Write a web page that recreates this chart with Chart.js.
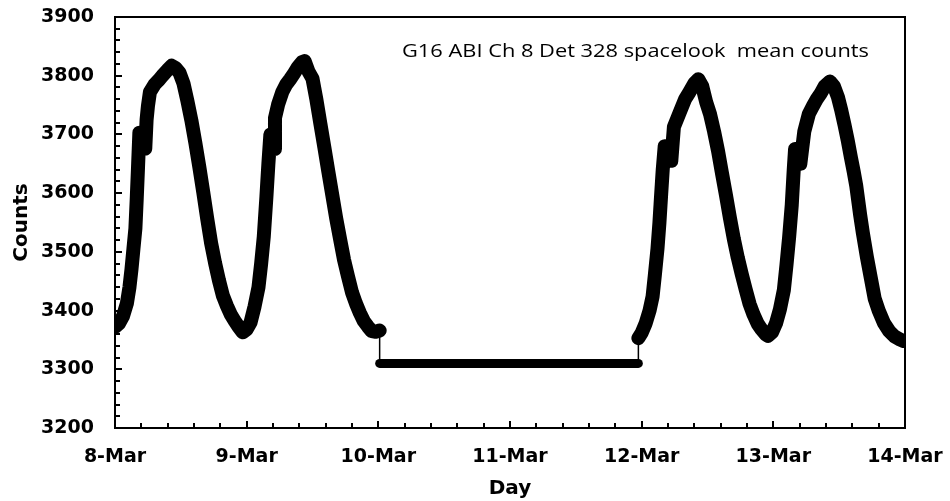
<!DOCTYPE html>
<html>
<head>
<meta charset="utf-8">
<script src="https://cdn.jsdelivr.net/npm/chart.js@4"></script>
<style>
html,body{margin:0;padding:0;background:#fff;}
#wrap{width:950px;height:501px;position:relative;}
</style>
</head>
<body>
<div id="wrap"><canvas id="c"></canvas></div>
<script>
// ---- data ----
const dayLabels = ['8-Mar', '9-Mar', '10-Mar', '11-Mar', '12-Mar', '13-Mar', '14-Mar'];
const yMin = 3200, yMax = 3900, yStep = 100;
const noteText = 'G16 ABI Ch 8 Det 328 spacelook  mean counts';
const xTitle = 'Day';
const yTitle = 'Counts';

// time in days since 8-Mar 00:00
const days = [
  0.00, 0.03, 0.06, 0.09, 0.11, 0.125, 0.14, 0.155, 0.165, 0.175, 0.185, 0.20, 0.22, 0.23, 0.24, 0.25, 0.265,
  0.30, 0.33, 0.36, 0.40, 0.43, 0.46, 0.49, 0.52, 0.55, 0.58, 0.61, 0.64, 0.67, 0.70, 0.73, 0.76, 0.79,
  0.82, 0.85, 0.88, 0.91, 0.94, 0.97, 1.00, 1.03, 1.06, 1.09, 1.11, 1.13, 1.15, 1.165, 1.18, 1.195, 1.21,
  1.215, 1.24, 1.27, 1.30, 1.33, 1.36, 1.39, 1.42, 1.44, 1.47, 1.50, 1.53, 1.56, 1.59, 1.62, 1.65, 1.68,
  1.71, 1.74, 1.77, 1.80, 1.83, 1.86, 1.89, 1.92, 1.95, 1.98, 2.01,
  2.01, 2.50, 3.00, 3.50, 3.975,
  3.975, 4.00, 4.03, 4.06, 4.083, 4.10, 4.12, 4.135, 4.147, 4.16, 4.175, 4.19, 4.21, 4.225, 4.245, 4.29,
  4.33, 4.36, 4.40, 4.43, 4.46, 4.49, 4.52, 4.55, 4.58, 4.61, 4.64, 4.67, 4.70, 4.73, 4.76, 4.79, 4.82,
  4.85, 4.88, 4.91, 4.94, 4.96, 4.99, 5.02, 5.05, 5.08, 5.10, 5.12, 5.14, 5.155, 5.165, 5.18, 5.195, 5.205,
  5.235, 5.27, 5.30, 5.33, 5.36, 5.39, 5.43, 5.46, 5.49, 5.515, 5.54, 5.565, 5.59, 5.61, 5.63, 5.66, 5.68,
  5.71, 5.74, 5.77, 5.80, 5.84, 5.88, 5.92, 5.96, 5.99
];
const counts = [
  3372, 3378, 3390, 3412, 3440, 3470, 3505, 3540, 3590, 3645, 3703, 3695, 3680, 3676, 3725, 3748, 3772,
  3785, 3792, 3800, 3810, 3817, 3813, 3805, 3787, 3757, 3724, 3686, 3645, 3602, 3557, 3515, 3481, 3451,
  3425, 3408, 3393, 3382, 3372, 3363, 3368, 3380, 3407, 3440, 3480, 3526, 3594, 3650, 3700, 3695, 3675,
  3728, 3752, 3772, 3785, 3794, 3804, 3815, 3823, 3825, 3807, 3795, 3759, 3718, 3678, 3637, 3597, 3557,
  3521, 3486, 3458, 3431, 3412, 3396, 3382, 3373, 3365, 3364, 3366,
  3310, 3310, 3310, 3310, 3310,
  3353, 3362, 3378, 3400, 3424, 3460, 3505, 3550, 3594, 3640, 3680, 3678, 3665, 3655, 3713, 3738,
  3760, 3771, 3787, 3794, 3782, 3755, 3734, 3705, 3672, 3634, 3597, 3558, 3522, 3490, 3462, 3436, 3411,
  3393, 3378, 3368, 3360, 3357, 3363, 3378, 3402, 3435, 3478, 3525, 3580, 3640, 3675, 3672, 3660, 3650,
  3705, 3735, 3748, 3760, 3770, 3782, 3790, 3782, 3764, 3742, 3717, 3690, 3660, 3637, 3612, 3562, 3532,
  3492, 3456, 3420, 3400, 3379, 3365, 3356, 3351, 3348
];

// ---- chart ----
const points = days.map((d, i) => ({ x: d, y: counts[i] }));
const tickFont = { family: 'DejaVu Sans', weight: 'bold', size: 19 };
const titleFont = { family: 'DejaVu Sans', weight: 'bold', size: 20 };

const decorPlugin = {
  id: 'decor',
  beforeDatasetsDraw(chart) {
    const { ctx, chartArea: a, scales: { x, y } } = chart;
    ctx.save();
    ctx.strokeStyle = '#000';
    ctx.lineWidth = 2;
    // frame (top and right)
    ctx.beginPath();
    ctx.moveTo(a.left, a.top); ctx.lineTo(a.right, a.top); ctx.lineTo(a.right, a.bottom);
    ctx.stroke();
    // inside tick marks, x: every 0.2 day
    ctx.beginPath();
    const nx = Math.round((x.max - x.min) / 0.2);
    for (let i = 0; i <= nx; i++) {
      const v = x.min + i * 0.2;
      const px = Math.round(x.getPixelForValue(v));
      const len = (i % 5 === 0) ? 7 : 5;
      ctx.moveTo(px, a.bottom); ctx.lineTo(px, a.bottom - len);
    }
    // inside tick marks, y: every 20 counts
    const ny = Math.round((y.max - y.min) / 20);
    for (let i = 0; i <= ny; i++) {
      const v = y.min + i * 20;
      const py = Math.round(y.getPixelForValue(v));
      const len = (i % 5 === 0) ? 7 : 5;
      ctx.moveTo(a.left, py); ctx.lineTo(a.left + len, py);
    }
    ctx.stroke();
    ctx.restore();
  },
  afterDraw(chart) {
    const { ctx } = chart;
    ctx.save();
    ctx.fillStyle = '#000';
    ctx.font = '19px "Open Sans"';
    ctx.textBaseline = 'alphabetic';
    ctx.textAlign = 'left';
    const w = ctx.measureText(noteText).width;
    ctx.translate(402, 57);
    ctx.scale(467 / w, 1);
    ctx.fillText(noteText, 0, 0);
    ctx.restore();
  }
};

const hiddenGrid = (len) => ({
  display: true, drawOnChartArea: false, drawTicks: true,
  tickLength: len, tickColor: 'rgba(0,0,0,0)'
});

new Chart(document.getElementById('c'), {
  type: 'line',
  data: {
    datasets: [{
      data: points,
      borderColor: '#000',
      backgroundColor: '#000',
      pointRadius: 0,
      pointHoverRadius: 0,
      tension: 0,
      borderWidth: 14,
      borderCapStyle: 'round',
      borderJoinStyle: 'round',
      segment: {
        borderWidth: c => c.p0.parsed.x === c.p1.parsed.x ? 1.5 : (c.p0.parsed.y === c.p1.parsed.y ? 9 : 14)
      }
    }]
  },
  options: {
    responsive: true,
    maintainAspectRatio: false,
    animation: false,
    events: [],
    layout: { padding: { left: 0, right: 45, top: 17, bottom: 0 } },
    plugins: { legend: { display: false }, tooltip: { enabled: false }, title: { display: false } },
    scales: {
      x: {
        type: 'linear',
        min: 0, max: dayLabels.length - 1,
        grid: hiddenGrid(15),
        border: { display: true, color: '#000', width: 2 },
        ticks: {
          stepSize: 1, autoSkip: false, maxRotation: 0, padding: 3,
          color: '#000', font: tickFont,
          callback: v => dayLabels[Math.round(v)]
        },
        title: { display: true, text: xTitle, color: '#000', font: titleFont, padding: { top: 0, bottom: 0 } },
        afterFit: s => { s.height = 73; }
      },
      y: {
        min: yMin, max: yMax,
        grid: hiddenGrid(18),
        border: { display: true, color: '#000', width: 2 },
        ticks: { stepSize: yStep, padding: 3, color: '#000', font: tickFont, callback: v => String(v) },
        title: { display: true, text: yTitle, color: '#000', font: titleFont, padding: { top: 10, bottom: 0 } },
        afterFit: s => { s.width = 115; }
      }
    }
  },
  plugins: [decorPlugin]
});
</script>
</body>
</html>
